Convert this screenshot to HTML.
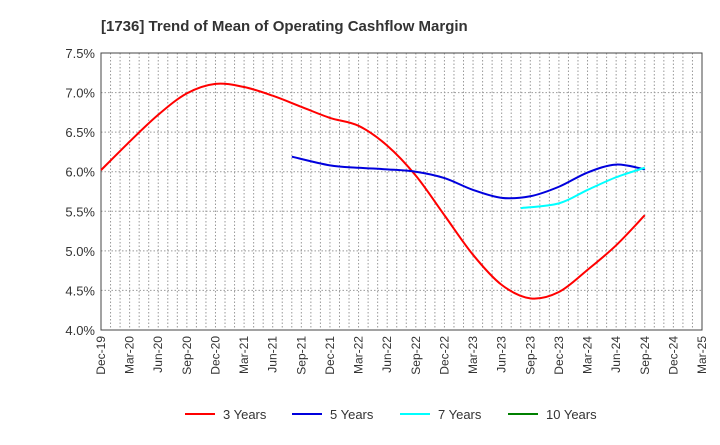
<!DOCTYPE html>
<html><head><meta charset="utf-8"><style>
body{margin:0;background:#fff;font-family:"Liberation Sans",sans-serif}
</style></head><body>
<svg id="chart" width="720" height="440" xmlns="http://www.w3.org/2000/svg" font-family="Liberation Sans, sans-serif">
<text x="101" y="31" font-size="15" font-weight="bold" fill="#333">[1736]  Trend of Mean of Operating Cashflow Margin</text>
<g id="grid"></g><g id="axes"></g><g id="series"></g><g id="legend"></g>
</svg>
<script>
const xLabels=["Dec-19","Mar-20","Jun-20","Sep-20","Dec-20","Mar-21","Jun-21","Sep-21","Dec-21","Mar-22","Jun-22","Sep-22","Dec-22","Mar-23","Jun-23","Sep-23","Dec-23","Mar-24","Jun-24","Sep-24","Dec-24","Mar-25"];
const yTicks=[4.0,4.5,5.0,5.5,6.0,6.5,7.0,7.5];
// month offsets from Dec-19
const m3=[0,3,6,9,12,15,18,21,24,27,30,33,36,39,42,45,48,51,54,57];
const s3=[6.02,6.38,6.72,6.99,7.11,7.07,6.96,6.82,6.68,6.58,6.33,5.95,5.45,4.95,4.57,4.40,4.48,4.76,5.07,5.45];
const m5=[20,24,27,30,33,36,39,42,45,48,51,54,57];
const s5=[6.19,6.08,6.05,6.03,6.00,5.92,5.77,5.67,5.69,5.81,5.99,6.09,6.03];
const m7=[44,48,51,54,57];
const s7=[5.54,5.60,5.77,5.93,6.05];
const m10=[];
const s10=[];
const seriesNames=["3 Years","5 Years","7 Years","10 Years"];
const colors=["#ff0000","#0000dd","#00ffff","#008000"];
const L=101,R=702,T=53,B=330;
const XM=m=>L+m*(R-L)/63, X=i=>XM(i*3), Y=v=>B-(v-4)*(B-T)/3.5;
const NS="http://www.w3.org/2000/svg";
function mk(tag,attrs,parent){const e=document.createElementNS(NS,tag);for(const k in attrs)e.setAttribute(k,attrs[k]);parent.appendChild(e);return e;}
const grid=document.getElementById('grid'),axes=document.getElementById('axes'),ser=document.getElementById('series'),leg=document.getElementById('legend');
for(let m=1;m<63;m++){const x=XM(m);const g=mk('line',{x1:x,x2:x,y1:T,y2:B,stroke:'#999','stroke-dasharray':'1.5,2','stroke-width':1},grid);

}
yTicks.forEach(v=>{const y=Y(v);const g=mk('line',{x1:L,x2:R,y1:y,y2:y,stroke:'#999','stroke-dasharray':'1.5,2'},grid);


const t=mk('text',{x:L-6,y:y+5,'text-anchor':'end','font-size':13,fill:'#333'},axes);t.textContent=v.toFixed(1)+'%';

});
const fr=mk('rect',{x:L,y:T,width:R-L,height:B-T,fill:'none',stroke:'#444'},axes);


xLabels.forEach((s,i)=>{const x=X(i);const t=mk('text',{x:x+4,y:B+6,'text-anchor':'end','font-size':12,fill:'#333',transform:`rotate(-90 ${x+4} ${B+6})`},axes);t.textContent=s;

});
function path(ms,arr){const p=arr.map((v,i)=>[XM(ms[i]),Y(v)]);if(p.length<2)return '';
let d=`M${p[0][0]},${p[0][1]}`;for(let i=0;i<p.length-1;i++){const p0=p[i-1]||p[i],p1=p[i],p2=p[i+1],p3=p[i+2]||p2;
d+=` C${p1[0]+(p2[0]-p0[0])/6},${p1[1]+(p2[1]-p0[1])/6} ${p2[0]-(p3[0]-p1[0])/6},${p2[1]-(p3[1]-p1[1])/6} ${p2[0]},${p2[1]}`;}return d;}
[[m3,s3],[m5,s5],[m7,s7],[m10,s10]].forEach((a,k)=>{const d=path(a[0],a[1]);if(d){const e=mk('path',{d:d,fill:'none',stroke:colors[k],'stroke-width':2},ser);

}});
const lx=[185,292,400,508];
seriesNames.forEach((n,k)=>{const g=mk('g',{},leg);


mk('line',{x1:lx[k],x2:lx[k]+30,y1:414,y2:414,stroke:colors[k],'stroke-width':2},g);
const t=mk('text',{x:lx[k]+38,y:419,'font-size':13,fill:'#333'},g);t.textContent=n;});
</script>
</body></html>
